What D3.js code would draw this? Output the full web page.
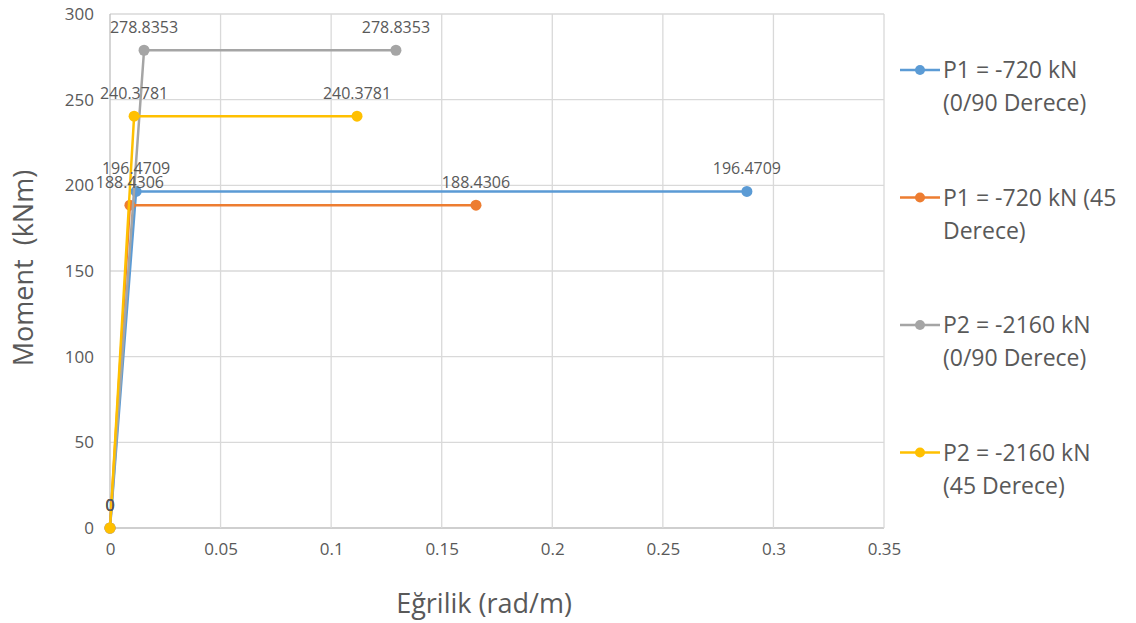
<!DOCTYPE html>
<html>
<head>
<meta charset="utf-8">
<script src="https://cdn.jsdelivr.net/npm/d3@7"></script>
<style>
  body { margin: 0; background: #fff; }
  text { font-family: "Open Sans", "DejaVu Sans", sans-serif; fill: #595959; }
</style>
</head>
<body>
<svg id="chart" width="1136" height="623"></svg>
<script>
// Series data (curvature rad/m, moment kNm)
var seriesNames = [
    ['P1 = -720 kN', '(0/90 Derece)'],
    ['P1 = -720 kN (45', 'Derece)'],
    ['P2 = -2160 kN', '(0/90 Derece)'],
    ['P2 = -2160 kN', '(45 Derece)']
];
var seriesColors = ['#5b9bd5', '#ed7d31', '#a5a5a5', '#ffc000'];
var curvP1a = [0, 0.0118, 0.288];
var momP1a  = [0, 196.4709, 196.4709];
var curvP1b = [0, 0.009, 0.1655];
var momP1b  = [0, 188.4306, 188.4306];
var curvP2a = [0, 0.0154, 0.1293];
var momP2a  = [0, 278.8353, 278.8353];
var curvP2b = [0, 0.0109, 0.1117];
var momP2b  = [0, 240.3781, 240.3781];
var xTicks = [0, 0.05, 0.1, 0.15, 0.2, 0.25, 0.3, 0.35];
var yTicks = [0, 50, 100, 150, 200, 250, 300];

var curves = [[curvP1a, momP1a], [curvP1b, momP1b], [curvP2a, momP2a], [curvP2b, momP2b]];

var svg = d3.select('#chart');
var plotL = 110, plotR = 884, plotT = 14, plotB = 528;

var x = d3.scaleLinear().domain([0, 0.35]).range([plotL, plotR]);
var y = d3.scaleLinear().domain([0, 300]).range([plotB, plotT]);

//Gridlines
svg.append('g').selectAll('line')
    .data(yTicks)
    .enter().append('line')
    .attr('x1', plotL).attr('x2', plotR)
    .attr('y1', function(d) { return y(d); })
    .attr('y2', function(d) { return y(d); })
    .attr('stroke', function(d) { return d === 0 ? '#bfbfbf' : '#d9d9d9'; })
    .attr('stroke-width', 1.3);
svg.append('g').selectAll('line')
    .data(xTicks)
    .enter().append('line')
    .attr('y1', plotT).attr('y2', plotB)
    .attr('x1', function(d) { return x(d); })
    .attr('x2', function(d) { return x(d); })
    .attr('stroke', function(d) { return d === 0 ? '#bfbfbf' : '#d9d9d9'; })
    .attr('stroke-width', 1.3);

//Axes, using d3 axes but hiding their lines
var xAxis = svg.append('g')
    .attr('transform', 'translate(0,' + plotB + ')')
    .call(d3.axisBottom(x).tickValues(xTicks).tickSize(0).tickPadding(15)
        .tickFormat(function(d) { return String(d); }));
var yAxis = svg.append('g')
    .attr('transform', 'translate(' + plotL + ',0)')
    .call(d3.axisLeft(y).tickValues(yTicks).tickSize(0).tickPadding(16));
[xAxis, yAxis].forEach(function(a) {
    a.select('.domain').remove();
    a.attr('font-size', 17).attr('font-family', '"Open Sans", sans-serif');
    a.selectAll('text').attr('fill', '#595959');
});

//Axis titles
svg.append('text')
    .attr('x', 484).attr('y', 613)
    .attr('text-anchor', 'middle')
    .style('font-size', '27px')
    .text('Eğrilik (rad/m)');
svg.append('text')
    .attr('transform', 'translate(33,268) rotate(-90)')
    .attr('text-anchor', 'middle')
    .style('font-size', '27px')
    .style('white-space', 'pre')
    .text('Moment  (kNm)');

var line = d3.line()
    .x(function(d) { return x(d[0]); })
    .y(function(d) { return y(d[1]); });

curves.forEach(function(c, i) {
    var pts = c[0].map(function(v, j) { return [v, c[1][j]]; });
    var g = svg.append('g');
    g.append('path')
        .datum(pts)
        .attr('d', line)
        .attr('fill', 'none')
        .attr('stroke', seriesColors[i])
        .attr('stroke-width', 2.5);
    g.selectAll('circle')
        .data(pts)
        .enter().append('circle')
        .attr('cx', function(d) { return x(d[0]); })
        .attr('cy', function(d) { return y(d[1]); })
        .attr('r', 5.5)
        .attr('fill', seriesColors[i]);
});

//Data labels drawn after all lines so they sit on top
curves.forEach(function(c, i) {
    var pts = c[0].map(function(v, j) { return [v, c[1][j]]; });
    svg.append('g').selectAll('text')
        .data(pts)
        .enter().append('text')
        .attr('x', function(d) { return x(d[0]); })
        .attr('y', function(d) { return y(d[1]) - 17; })
        .attr('text-anchor', 'middle')
        .style('font-size', '16px')
        .text(function(d) { return String(d[1]); });
});

//Legend
var legend = svg.append('g');
seriesNames.forEach(function(name, i) {
    var ly = 70 + i * 127.5;
    legend.append('line')
        .attr('x1', 900).attr('x2', 940)
        .attr('y1', ly).attr('y2', ly)
        .attr('stroke', seriesColors[i])
        .attr('stroke-width', 2.5);
    legend.append('circle')
        .attr('cx', 920).attr('cy', ly).attr('r', 5)
        .attr('fill', seriesColors[i]);
    legend.append('text')
        .attr('x', 943).attr('y', ly + 8)
        .style('font-size', '23px')
        .text(name[0]);
    legend.append('text')
        .attr('x', 943).attr('y', ly + 41)
        .style('font-size', '23px')
        .text(name[1]);
});
</script>
</body>
</html>
